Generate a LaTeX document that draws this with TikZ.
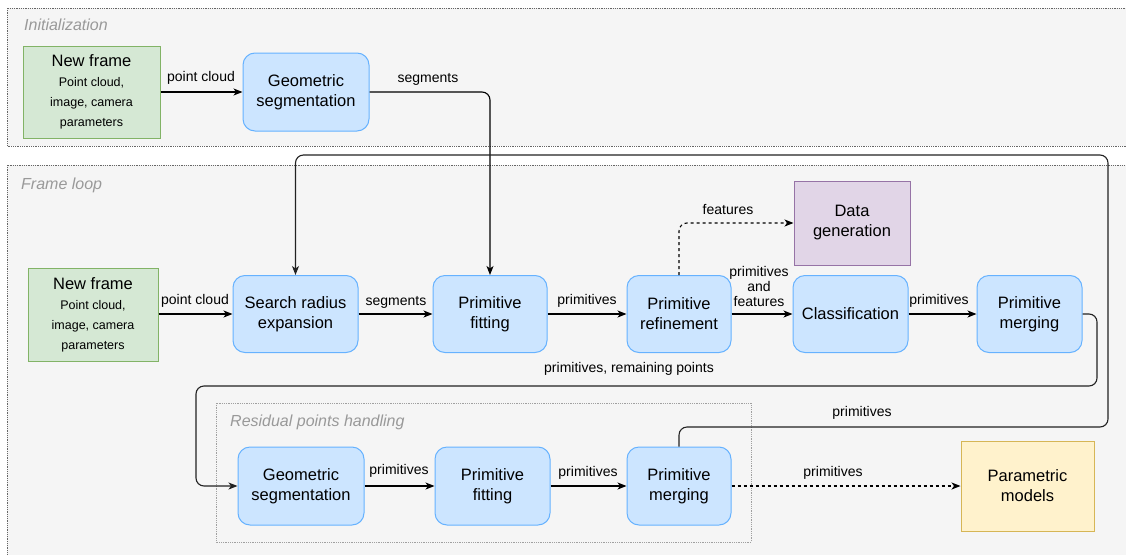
\documentclass[tikz,border=0pt]{standalone}
\usepackage{fontspec}
\setmainfont{Liberation Sans}
\usetikzlibrary{arrows.meta}
\definecolor{contF}{HTML}{F5F5F5}
\definecolor{contB}{HTML}{666666}
\definecolor{resB}{HTML}{A0A0A0}
\definecolor{labG}{HTML}{999999}
\definecolor{procF}{HTML}{CCE5FF}
\definecolor{procB}{HTML}{66B2FF}
\definecolor{grnF}{HTML}{D5E8D4}
\definecolor{grnB}{HTML}{82B366}
\definecolor{purF}{HTML}{E1D5E7}
\definecolor{purB}{HTML}{9673A6}
\definecolor{yelF}{HTML}{FFF2CC}
\definecolor{yelB}{HTML}{D6B656}
\definecolor{loopC}{HTML}{222222}
\tikzset{
  proc/.style={draw=procB, fill=procF, rounded corners=12pt, line width=1pt, align=center, inner sep=0pt, font=\fontsize{16.5}{20}\selectfont},
  srcbox/.style={draw=grnB, fill=grnF, line width=1pt, align=center, inner sep=0pt, font=\fontsize{12.5}{20}\selectfont},
  genbox/.style={draw=purB, fill=purF, line width=1pt, align=center, inner sep=0pt, font=\fontsize{16.5}{20}\selectfont},
  outbox/.style={draw=yelB, fill=yelF, line width=1pt, align=center, inner sep=0pt, font=\fontsize{16.5}{20}\selectfont},
  container/.style={draw=contB, fill=contF, densely dotted, line width=0.8pt},
  subcontainer/.style={draw=resB, densely dotted, line width=0.8pt},
  contlabel/.style={anchor=west, text=labG, font=\fontsize{16}{20}\selectfont\itshape, inner sep=0pt},
  lbl/.style={font=\fontsize{14}{15}\selectfont, align=center, inner sep=0pt},
  arr/.style={-{Stealth[length=9pt,width=7pt,inset=2.5pt]}, line width=1.1pt, rounded corners=8pt},
  looparr/.style={arr, draw=loopC},
  dsh/.style={arr, dashed}
}
\begin{document}
\begin{tikzpicture}[x=1pt,y=-1pt]
\useasboundingbox (0,0) rectangle (1126,554);
\clip (0,0) rectangle (1126,554);
\fill[white] (0,0) rectangle (1126,554);
% containers
\draw[container] (7,8) rectangle (1140,146);
\node[contlabel] (tinit) at (24,25) {Initialization};
\draw[container] (7,165) rectangle (1140,570);
\node[contlabel] (tloop) at (21,185) {Frame loop};
\draw[subcontainer] (216,403) rectangle (751,542);
\node[contlabel] (tres) at (230,422) {Residual points handling};

% initialization row
\node[srcbox, minimum width=137, minimum height=92] (nf1) at (91.5,92) {{\fontsize{16.5}{20}\selectfont New frame}\\Point cloud,\\image, camera\\parameters};
\node[proc, minimum width=126, minimum height=78] (gs1) at (306,92) {Geometric\\segmentation};

% frame loop row
\node[srcbox, minimum width=130, minimum height=93] (nf2) at (93,314.5) {{\fontsize{16.5}{20}\selectfont New frame}\\Point cloud,\\image, camera\\parameters};
\node[proc, minimum width=125, minimum height=77] (sr) at (295.5,314) {Search radius\\expansion};
\node[proc, minimum width=114, minimum height=77] (pf) at (490,314) {Primitive\\fitting};
\node[proc, minimum width=104, minimum height=77] (pr) at (679,314) {Primitive\\refinement};
\node[genbox, minimum width=116, minimum height=84] (dg) at (852,223) {Data\\generation};
\node[proc, minimum width=115, minimum height=77] (cl) at (850.5,314) {Classification};
\node[proc, minimum width=105, minimum height=77] (pm) at (1029.5,314) {Primitive\\merging};

% residual row
\node[proc, minimum width=126, minimum height=78] (gs2) at (301,486) {Geometric\\segmentation};
\node[proc, minimum width=115, minimum height=78] (pf2) at (492.5,486) {Primitive\\fitting};
\node[proc, minimum width=104, minimum height=78] (pm2) at (679,486) {Primitive\\merging};
\node[outbox, minimum width=133, minimum height=90] (pmod) at (1027.5,486) {Parametric\\models};

% helper coordinates
\coordinate (c1) at (1097,386);
\coordinate (c2) at (196,486);
\coordinate (c3) at (1108,427);
\coordinate (c4) at (1108,155);

% connectors
\draw[arr] (nf1) -- (gs1);
\draw[arr] (gs1.east) -| (pf.north);
\draw[arr] (nf2.east |- sr.west) -- (sr.west);
\draw[arr] (sr) -- (pf);
\draw[arr] (pf) -- (pr);
\draw[arr] (pr) -- (cl);
\draw[arr] (cl) -- (pm);
\draw[dsh] (pr.north) |- (dg.west);
\draw[looparr] (pm.east) -| (c1) -| (c2) -- (gs2.west);
\draw[arr] (gs2) -- (pf2);
\draw[arr] (pf2) -- (pm2);
\draw[dsh] (pm2) -- (pmod);
\draw[looparr] (pm2.north) |- (c3) -- (c4) -| (sr.north);

% labels
\node[lbl] (l1) at (201,78) {point cloud};
\node[lbl] (l2) at (428,79) {segments};
\node[lbl] (l3) at (195,301) {point cloud};
\node[lbl] (l4) at (396,302) {segments};
\node[lbl] (l5) at (587,301) {primitives};
\node[lbl] (l6) at (759,286) {primitives\\and\\features};
\node[lbl] (l7) at (939,301) {primitives};
\node[lbl] (l8) at (728,209) {features};
\node[lbl] (l9) at (629,369) {primitives, remaining points};
\node[lbl] (l10) at (862,413) {primitives};
\node[lbl] (l11) at (399,471) {primitives};
\node[lbl] (l12) at (588,473) {primitives};
\node[lbl] (l13) at (833,473) {primitives};
\end{tikzpicture}
\end{document}
